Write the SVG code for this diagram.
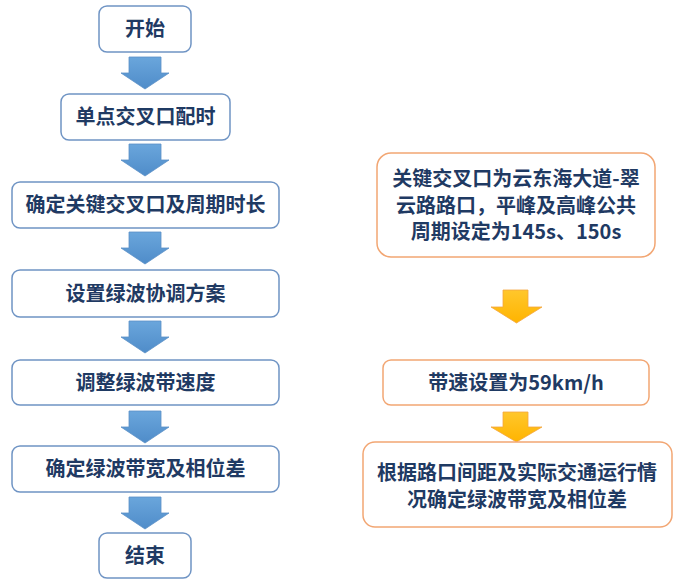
<svg xmlns="http://www.w3.org/2000/svg" width="678" height="585" viewBox="0 0 678 585">
<defs>
<linearGradient id="gb" x1="0" y1="0" x2="0" y2="1"><stop offset="0" stop-color="#6aa6dc"/><stop offset="1" stop-color="#4f8cc9"/></linearGradient>
<linearGradient id="go" x1="0" y1="0" x2="0" y2="1"><stop offset="0" stop-color="#ffc72c"/><stop offset="1" stop-color="#ffb400"/></linearGradient>
</defs>
<style>
.bb{fill:#fff;stroke:#6f94c4;stroke-width:1.5}
.ob{fill:#fff;stroke:#f2a673;stroke-width:1.5}
.t{font-family:"Noto Sans CJK SC","Liberation Sans",sans-serif;font-weight:bold;font-size:20px;fill:#1f3a63;text-anchor:middle}
.ab{fill:url(#gb);stroke:#5a8fc6;stroke-width:0.8}
.ao{fill:url(#go);stroke:#f4a640;stroke-width:0.8}
</style>
<rect width="678" height="585" fill="#fff"/>
<g id="connectors">
<path class="ab" d="M129,57 H161 V73 H169 L145,89 L121,73 H129 Z"/>
<path class="ab" d="M129,144 H161 V160 H169 L145,176 L121,160 H129 Z"/>
<path class="ab" d="M129,232 H161 V248 H169 L145,264 L121,248 H129 Z"/>
<path class="ab" d="M129,321 H161 V337 H169 L145,353 L121,337 H129 Z"/>
<path class="ab" d="M129,411 H161 V427 H169 L145,443 L121,427 H129 Z"/>
<path class="ab" d="M129,497 H161 V513 H169 L145,529 L121,513 H129 Z"/>
<path class="ao" d="M503,290 H528 V307 H542 L516.5,323 L491,307 H503 Z"/>
<path class="ao" d="M503,412 H528 V427 H542 L516.5,442 L491,427 H503 Z"/>
</g>
<g id="n1"><rect class="bb" x="99" y="6" width="92" height="46" rx="8"/><text class="t" x="145" y="36">开始</text></g>
<g id="n2"><rect class="bb" x="61" y="94" width="169" height="46" rx="8"/><text class="t" x="145.5" y="124">单点交叉口配时</text></g>
<g id="n3"><rect class="bb" x="12" y="182" width="267" height="46" rx="8"/><text class="t" x="145.5" y="212">确定关键交叉口及周期时长</text></g>
<g id="n4"><rect class="bb" x="12" y="270" width="267" height="47" rx="8"/><text class="t" x="145.5" y="301">设置绿波协调方案</text></g>
<g id="n5"><rect class="bb" x="12" y="360" width="267" height="45" rx="8"/><text class="t" x="145.5" y="390">调整绿波带速度</text></g>
<g id="n6"><rect class="bb" x="12" y="446" width="267" height="46" rx="8"/><text class="t" x="145.5" y="476">确定绿波带宽及相位差</text></g>
<g id="n7"><rect class="bb" x="99" y="533" width="92" height="45" rx="8"/><text class="t" x="145" y="563">结束</text></g>
<g id="r1"><rect class="ob" x="377" y="153" width="278" height="104" rx="14"/>
<text class="t" x="516" y="186">关键交叉口为云东海大道-翠</text>
<text class="t" x="516" y="213">云路路口，平峰及高峰公共</text>
<text class="t" x="516" y="239">周期设定为145s、150s</text></g>
<g id="r2"><rect class="ob" x="383" y="360" width="266" height="45" rx="8"/><text class="t" x="516" y="390">带速设置为59km/h</text></g>
<g id="r3"><rect class="ob" x="363" y="442" width="309" height="85" rx="12"/>
<text class="t" x="517" y="480">根据路口间距及实际交通运行情</text>
<text class="t" x="517" y="507">况确定绿波带宽及相位差</text></g>
</svg>
